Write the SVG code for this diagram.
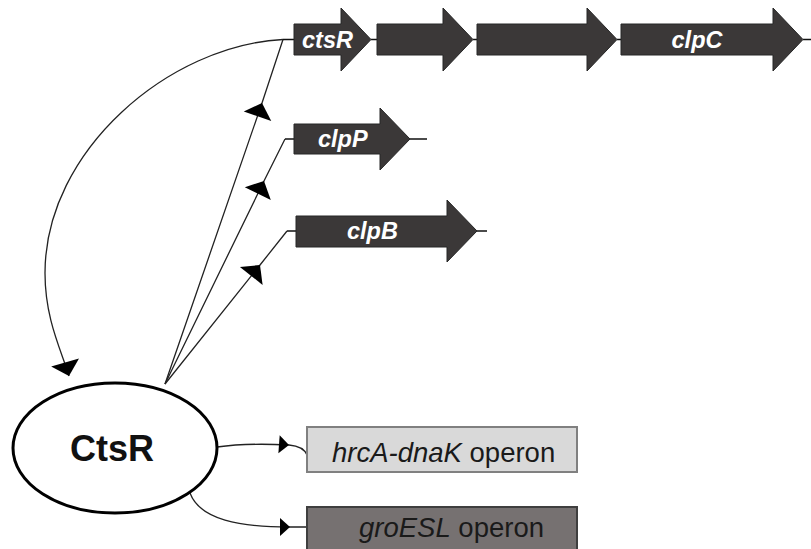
<svg xmlns="http://www.w3.org/2000/svg" width="811" height="549" viewBox="0 0 811 549">
<defs>
<style>
.gene{fill:#3b3838;stroke:#262626;stroke-width:1}
.stub{stroke:#111;stroke-width:1.5;fill:none}
.glabel{font-family:"Liberation Sans",Arial,sans-serif;font-size:23.5px;font-weight:bold;font-style:italic;fill:#ffffff}
.conn{stroke:#222;stroke-width:1.3;fill:none}
.op{font-family:"Liberation Sans",Arial,sans-serif;font-size:27.5px;fill:#1a1a1a}
</style>
<marker id="big" markerUnits="userSpaceOnUse" viewBox="-16 -16 18 32" refX="0" refY="0" markerWidth="18" markerHeight="32" orient="auto" overflow="visible">
<path d="M0,0 L-14,-14.5 L-14,14.5 Z" fill="#000"/>
</marker>
<marker id="small" markerUnits="userSpaceOnUse" viewBox="-12 -10 14 20" refX="0" refY="0" markerWidth="14" markerHeight="20" orient="auto" overflow="visible">
<path d="M0,0 L-10,-9 L-10,9 Z" fill="#000"/>
</marker>
</defs>
<rect width="811" height="549" fill="#ffffff"/>

<g id="connectors">
<path class="conn" d="M165,384 L262,103 L283,39.5" marker-mid="url(#big)"/>
<path class="conn" d="M165,384 L264,181 L285,139" marker-mid="url(#big)"/>
<path class="conn" d="M165,384 L260,265 L287,231" marker-mid="url(#big)"/>
<path class="conn" d="M283,39.5 C170,45 45,150 45,273 C45,320 62,352 69,376" marker-end="url(#big)"/>
<path class="conn" d="M217,447 C245,443 270,444 289,445 C300,446 305,450 307,455" marker-mid="url(#small)"/>
<path class="conn" d="M190,493 C200,520 240,527 290,527 L307,527" marker-mid="url(#small)"/>
</g>

<g id="operon-ctsR">
<path class="stub" d="M283,39.5 H294 M371,39.5 H377 M473,39.5 H477 M617,39.5 H621 M803,39.5 H811"/>
<g id="gene-ctsR">
<path class="gene" d="M294,24 H341 V8 L371,39.5 L341,71 V55 H294 Z"/>
<text class="glabel" x="302" y="48">ctsR</text>
</g>
<g id="gene-2">
<path class="gene" d="M377,24 H443 V8 L473,39.5 L443,71 V55 H377 Z"/>
</g>
<g id="gene-3">
<path class="gene" d="M477,24 H587 V8 L617,39.5 L587,71 V55 H477 Z"/>
</g>
<g id="gene-clpC">
<path class="gene" d="M621,24 H773 V8 L803,39.5 L773,71 V55 H621 Z"/>
<text class="glabel" x="697" y="48" text-anchor="middle">clpC</text>
</g>
</g>

<g id="gene-clpP">
<path class="stub" d="M285,139 H294 M410,139 H427"/>
<path class="gene" d="M294,124 H380 V108 L410,139 L380,170 V154 H294 Z"/>
<text class="glabel" x="318" y="147">clpP</text>
</g>

<g id="gene-clpB">
<path class="stub" d="M287,231 H296 M477,231 H487"/>
<path class="gene" d="M296,216 H447 V200 L477,231 L447,262 V247 H296 Z"/>
<text class="glabel" x="347" y="239">clpB</text>
</g>

<g id="node-CtsR">
<ellipse cx="115" cy="448" rx="102" ry="65" fill="#ffffff" stroke="#000" stroke-width="3"/>
<text x="112" y="461" text-anchor="middle" font-family="'Liberation Sans',Arial,sans-serif" font-size="36" font-weight="bold" fill="#111">CtsR</text>
</g>

<g id="node-hrcA-dnaK">
<rect x="307" y="427" width="270" height="45" fill="#d9d9d9" stroke="#808080" stroke-width="2"/>
<text class="op" x="332" y="462"><tspan font-style="italic">hrcA-dnaK</tspan> operon</text>
</g>

<g id="node-groESL">
<rect x="307" y="507" width="270" height="50" fill="#767171" stroke="#3f3f3f" stroke-width="2"/>
<text class="op" x="359" y="537" fill="#111"><tspan font-style="italic">groESL</tspan> operon</text>
</g>
</svg>
